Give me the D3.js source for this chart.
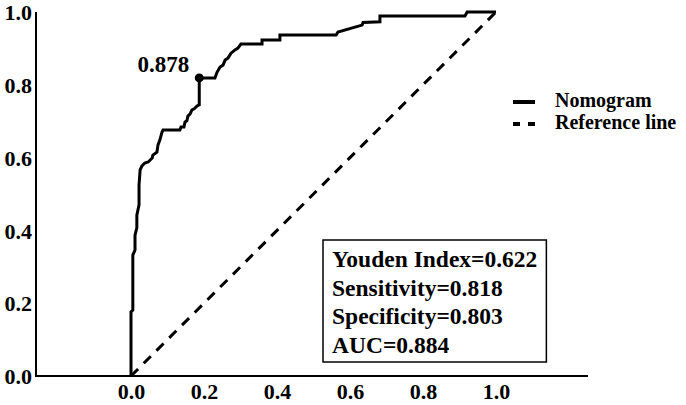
<!DOCTYPE html>
<html>
<head>
<meta charset="utf-8">
<script src="https://cdn.jsdelivr.net/npm/d3@7"></script>
<style>
  body { margin: 0; background: #fff; }
  svg text { font-family: "Liberation Serif", "Times New Roman", serif; font-weight: bold; fill: #000; }
</style>
</head>
<body>
<div id="svg-container"></div>
<script>
// data
const fpr = [0, 0, 0.005, 0.005, 0.011, 0.011, 0.016, 0.016, 0.022, 0.022, 0.025, 0.030, 0.038, 0.047,
  0.058, 0.060, 0.071, 0.074, 0.079, 0.085, 0.088, 0.134, 0.137, 0.145, 0.148, 0.153, 0.156, 0.162,
  0.167, 0.173, 0.181, 0.187, 0.187, 0.230, 0.236, 0.244, 0.252, 0.258, 0.266, 0.274, 0.285, 0.293,
  0.301, 0.359, 0.359, 0.408, 0.408, 0.562, 0.567, 0.633, 0.636, 0.682, 0.682, 0.915, 0.921, 1];
const tpr = [0, 0.176, 0.181, 0.332, 0.346, 0.387, 0.407, 0.442, 0.470, 0.525, 0.566, 0.577, 0.585, 0.588,
  0.599, 0.607, 0.615, 0.635, 0.648, 0.670, 0.676, 0.676, 0.684, 0.684, 0.698, 0.701, 0.714, 0.720,
  0.731, 0.734, 0.742, 0.745, 0.819, 0.819, 0.835, 0.849, 0.854, 0.868, 0.874, 0.887, 0.896, 0.901,
  0.912, 0.912, 0.923, 0.923, 0.937, 0.937, 0.945, 0.964, 0.971, 0.973, 0.989, 0.989, 1, 1];
const refX = [0, 1];
const refY = [0, 1];
const cutoff = { fpr: 0.187, tpr: 0.819, label: "0.878" };
const ticks = [0, 0.2, 0.4, 0.6, 0.8, 1.0];
const legendLabels = ["Nomogram", "Reference line"];
const statLines = ["Youden Index=0.622", "Sensitivity=0.818", "Specificity=0.803", "AUC=0.884"];

////////////////////////////////////////////////////////////////////
////////////////////////////  Init  ////////////////////////////////
const width = 686;
const height = 405;
const svg = d3.select("#svg-container").append("svg")
  .attr("width", width).attr("height", height);

const xScale = d3.scaleLinear().domain([0, 1]).range([131, 496]);
const yScale = d3.scaleLinear().domain([0, 1]).range([376, 12]);
const axisLeftX = 36;
const axisRightX = 588;

// axes (no tick marks, only labels)
const yAxis = d3.axisLeft(yScale).tickValues(ticks).tickFormat(d3.format(".1f")).tickSize(0).tickPadding(4);
const xAxis = d3.axisBottom(xScale).tickValues(ticks).tickFormat(d3.format(".1f")).tickSize(0).tickPadding(0);

const gy = svg.append("g").attr("transform", `translate(${axisLeftX},0)`).call(yAxis);
gy.select(".domain").remove();
gy.selectAll("text").style("font-size", "22px").attr("dy", "0.35em");

const gx = svg.append("g").attr("transform", `translate(0,${yScale(0)})`).call(xAxis);
gx.select(".domain").remove();
gx.selectAll("text").style("font-size", "22px").attr("y", 23).attr("dy", null);

// axis lines
svg.append("line")
  .attr("x1", axisLeftX).attr("x2", axisLeftX)
  .attr("y1", yScale(1)).attr("y2", yScale(0) + 1)
  .attr("stroke", "#000").attr("stroke-width", 2);
svg.append("line")
  .attr("x1", axisLeftX - 1).attr("x2", axisRightX)
  .attr("y1", yScale(0)).attr("y2", yScale(0))
  .attr("stroke", "#000").attr("stroke-width", 2);

// reference line
const line = d3.line().x((d) => xScale(d[0])).y((d) => yScale(d[1]));
svg.append("path")
  .datum(d3.zip(refX, refY))
  .attr("fill", "none")
  .attr("stroke", "#000")
  .attr("stroke-width", 3)
  .attr("stroke-dasharray", "10,8")
  .attr("d", line);

// roc curve
svg.append("path")
  .datum(d3.zip(fpr, tpr))
  .attr("fill", "none")
  .attr("stroke", "#000")
  .attr("stroke-width", 3)
  .attr("stroke-linejoin", "miter")
  .attr("d", line);

// cutoff point
svg.append("circle")
  .attr("cx", xScale(cutoff.fpr))
  .attr("cy", yScale(cutoff.tpr))
  .attr("r", 4.5)
  .attr("fill", "#000");
svg.append("text")
  .attr("x", xScale(cutoff.fpr) - 10)
  .attr("y", yScale(cutoff.tpr) - 6)
  .attr("text-anchor", "end")
  .style("font-size", "23px")
  .text(cutoff.label);

// legend
const legend = svg.append("g").attr("transform", "translate(513,102)");
legendLabels.forEach((lab, i) => {
  legend.append("line")
    .attr("x1", 0).attr("x2", 22)
    .attr("y1", i * 22).attr("y2", i * 22)
    .attr("stroke", "#000").attr("stroke-width", 4)
    .attr("stroke-dasharray", i === 1 ? "7,8" : null);
  legend.append("text")
    .attr("x", 42).attr("y", i * 22 + 5)
    .style("font-size", "20px")
    .text(lab);
});

// stats box
const box = svg.append("g").attr("transform", "translate(323,240)");
const boxRect = box.append("rect")
  .attr("fill", "#fff").attr("stroke", "#000").attr("stroke-width", 1.5);
const boxText = box.selectAll("text.stat").data(statLines).join("text")
  .attr("class", "stat")
  .attr("x", 9)
  .attr("y", (d, i) => 27 + i * 28.5)
  .style("font-size", "23.5px")
  .text((d) => d);
const tw = d3.max(boxText.nodes(), (n) => n.getComputedTextLength());
boxRect.attr("width", tw + 18).attr("height", 122);
</script>
</body>
</html>
